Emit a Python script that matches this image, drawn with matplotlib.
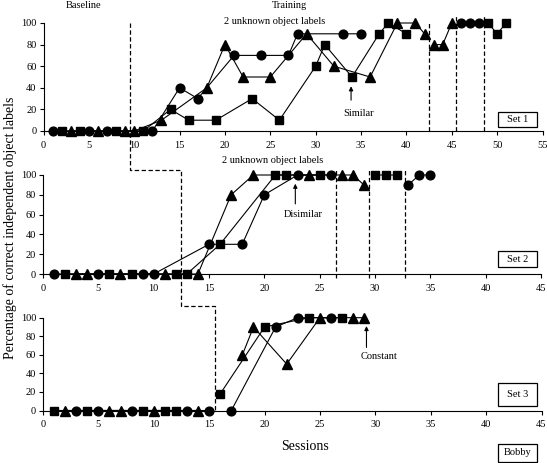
import numpy as np
import matplotlib.pyplot as plt
from matplotlib.lines import Line2D
from matplotlib.patches import Rectangle

plt.rcParams['font.family'] = ['Liberation Serif', 'DejaVu Serif']

nan = np.nan

# Set 1 (similar)
s1_circ_x = [1, 5, 7, 12, 15, 17, 21, 24, 27, 28, 33, 35, nan, 46, 47, 48]
s1_circ_y = [0, 0, 0, 0, 40, 30, 70, 70, 70, 90, 90, 90, nan, 100, 100, 100]
s1_sq_x = [2, 4, 8, 11, 14, 16, 19, 23, 26, 30, 31, 34, 37, 38, 40, nan, 49, 50, 51]
s1_sq_y = [0, 0, 0, 0, 20, 10, 10, 30, 10, 60, 80, 50, 90, 100, 90, nan, 100, 90, 100]
s1_tri_x = [3, 6, 9, 10, 13, 18, 20, 22, 25, 29, 32, 36, 39, 41, 42, nan, 43, 44, 45]
s1_tri_y = [0, 0, 0, 0, 10, 40, 80, 50, 50, 90, 60, 50, 100, 100, 90, nan, 80, 80, 100]

# Set 2 (disimilar)
s2_circ_x = [1, 5, 9, 10, 15, 18, 20, 23, 26, nan, 33, 34, 35]
s2_circ_y = [0, 0, 0, 0, 30, 30, 80, 100, 100, nan, 90, 100, 100]
s2_sq_x = [2, 6, 8, 12, 13, 16, 21, 22, 25, nan, 30, 31, 32]
s2_sq_y = [0, 0, 0, 0, 0, 30, 100, 100, 100, nan, 100, 100, 100]
s2_tri_x = [3, 4, 7, 11, 14, 17, 19, 24, 27, 28, 29]
s2_tri_y = [0, 0, 0, 0, 0, 80, 100, 100, 100, 100, 90]

# Set 3 (constant)
s3_circ_x = [3, 5, 8, 13, 15, nan, 17, 21, 23, 26]
s3_circ_y = [0, 0, 0, 0, 0, nan, 0, 90, 100, 100]
s3_sq_x = [1, 4, 9, 11, 12, nan, 16, 20, 24, 27]
s3_sq_y = [0, 0, 0, 0, 0, nan, 18, 90, 100, 100]
s3_tri_x = [2, 6, 7, 10, 14, nan, 18, 19, 22, 25, 28, 29]
s3_tri_y = [0, 0, 0, 0, 0, nan, 60, 90, 50, 100, 100, 100]

W, H = 547, 463
fig = plt.figure(figsize=(W / 100, H / 100), dpi=100)


def box(px0, py0, px1, py1):
    # pixel box -> figure fraction axes rect
    return [px0 / W, 1 - py1 / H, (px1 - px0) / W, (py1 - py0) / H]


ax1 = fig.add_axes(box(43.5, 23, 542.5, 131))
ax2 = fig.add_axes(box(43, 175, 541, 274))
ax3 = fig.add_axes(box(43, 317.7, 541.5, 410.5))

panels = [
    (ax1, 55, (s1_circ_x, s1_circ_y), (s1_sq_x, s1_sq_y), (s1_tri_x, s1_tri_y)),
    (ax2, 45, (s2_circ_x, s2_circ_y), (s2_sq_x, s2_sq_y), (s2_tri_x, s2_tri_y)),
    (ax3, 45, (s3_circ_x, s3_circ_y), (s3_sq_x, s3_sq_y), (s3_tri_x, s3_tri_y)),
]

for ax, xmax, circ, sq, tri in panels:
    ax.plot(circ[0], circ[1], 'k-', marker='o', ms=6.3, lw=0.8, clip_on=False, zorder=3)
    ax.plot(sq[0], sq[1], 'k-', marker='s', ms=5.8, lw=0.8, clip_on=False, zorder=3)
    ax.plot(tri[0], tri[1], 'k-', marker='^', ms=6.8, lw=0.8, clip_on=False, zorder=3)
    ax.set_xlim(0, xmax)
    ax.set_ylim(0, 100)
    ax.set_xticks(np.arange(0, xmax + 1, 5))
    ax.set_yticks(np.arange(0, 101, 20))
    ax.spines['top'].set_visible(False)
    ax.spines['right'].set_visible(False)
    ax.patch.set_alpha(0)
    ax.tick_params(direction='out', length=3, width=0.8, labelsize=7.5)
    ax.tick_params(axis='y', pad=2)
    ax.tick_params(axis='x', pad=4)

dash = (0, (3.5, 2))
# phase lines inside panels
for xv, ytop in [(42.5, 100), (45.5, 107), (48.5, 107)]:
    ax1.plot([xv, xv], [0, ytop], color='k', ls=dash, lw=0.9, clip_on=False)
for xv in [26.5, 29.5, 32.7]:
    ax2.plot([xv, xv], [-4, 105], color='k', ls=dash, lw=0.9, clip_on=False)

# staircase baseline / training line across panels
def tofig(ax, x, y):
    return fig.transFigure.inverted().transform(ax.transData.transform((x, y)))

p1 = tofig(ax1, 9.5, 100)
p2x = p1[0]
p2y = tofig(ax2, 0, 105)[1]
p3x = tofig(ax2, 12.5, 0)[0]
p4y = tofig(ax3, 0, 113)[1]
p5x = tofig(ax3, 15.5, 0)[0]
p6y = tofig(ax3, 0, 0)[1]
fig.add_artist(Line2D([p1[0], p2x, p3x, p3x, p5x, p5x],
                      [p1[1], p2y, p2y, p4y, p4y, p6y],
                      color='k', ls=dash, lw=0.9, transform=fig.transFigure))

# arrows and condition labels
arr = dict(arrowstyle='-|>', color='k', lw=0.8, mutation_scale=6)
ax1.annotate('', xy=(33.9, 44), xytext=(33.9, 26), arrowprops=arr, annotation_clip=False)
ax1.text(34.7, 16.4, 'Similar', ha='center', va='center', fontsize=7.5)
ax2.annotate('', xy=(22.8, 94), xytext=(22.8, 68), arrowprops=arr, annotation_clip=False)
ax2.text(23.5, 59.6, 'Disimilar', ha='center', va='center', fontsize=7.5)
ax3.annotate('', xy=(29.2, 94), xytext=(29.2, 65), arrowprops=arr, annotation_clip=False)
ax3.text(30.3, 58, 'Constant', ha='center', va='center', fontsize=7.5)

def ftext(px, py, s, **kw):
    fig.text(px / W, 1 - py / H, s, ha='center', va='center', **kw)

ftext(83.5, 6, 'Baseline', fontsize=7.5)
ftext(289, 6, 'Training', fontsize=7.5)
ftext(275, 22, '2 unknown object labels', fontsize=7.5)
ftext(273, 161, '2 unknown object labels', fontsize=7.5)
ftext(10, 228, 'Percentage of correct independent object labels', fontsize=10, rotation=90)
ftext(305, 447, 'Sessions', fontsize=10)

# set boxes
for py0, py1, label in [(111.7, 126.7, 'Set 1'), (251, 267.3, 'Set 2'),
                        (383.3, 406, 'Set 3'), (444, 461.7, 'Bobby')]:
    r = box(497.7, py0, 536.7, py1)
    fig.add_artist(Rectangle((r[0], r[1]), r[2], r[3], transform=fig.transFigure,
                             fill=False, edgecolor='k', lw=0.9))
    ftext(517.2, (py0 + py1) / 2, label, fontsize=7.5)

fig.savefig('out.png', dpi=100)
